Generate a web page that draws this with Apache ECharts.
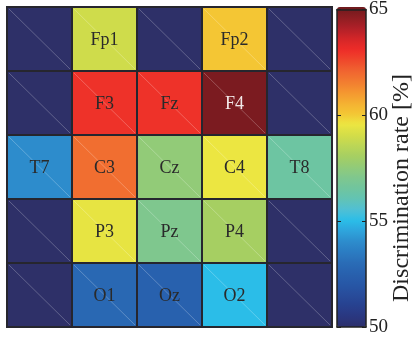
<!DOCTYPE html>
<html>
<head>
<meta charset="utf-8">
<script src="https://cdn.jsdelivr.net/npm/echarts@6/dist/echarts.min.js"></script>
<style>
  html, body { margin: 0; padding: 0; background: #fff; }
  #chart { width: 412px; height: 341px; }
</style>
</head>
<body>
<div id="chart"></div>
<script>
// Electrode layout on a 5 x 5 board and discrimination rate per electrode (%)
const electrodes = ['Fp1', 'Fp2', 'F3', 'Fz', 'F4', 'T7', 'C3', 'Cz', 'C4', 'T8', 'P3', 'Pz', 'P4', 'O1', 'Oz', 'O2'];
const colIndex   = [1, 3, 1, 2, 3, 0, 1, 2, 3, 4, 1, 2, 3, 1, 2, 3];
const rowIndex   = [0, 0, 1, 1, 1, 2, 2, 2, 2, 2, 3, 3, 3, 4, 4, 4];
const rates      = [58.9, 60.0, 62.9, 62.9, 64.8, 54.0, 61.8, 57.5, 59.5, 56.4, 59.4, 57.0, 58.0, 52.8, 52.5, 55.0];

const gridCols = ['0', '1', '2', '3', '4'];
const gridRows = ['0', '1', '2', '3', '4'];

// Colour bar range and ticks
const rateMin = 50;
const rateMax = 65;
const rateTickStep = 5;

// Colour ramp sampled every 0.5 % from 50 to 65
const ramp = [
  '#2c2f6b', '#2a3780', '#27418f', '#284c9b', '#2757a6', '#2861ae', '#2a6cb6', '#2b7cc2',
  '#2d8ccc', '#2ea4dc', '#2bbde8', '#50c0d4', '#62c3b4', '#70c59e', '#7fc78e', '#92cb78',
  '#a6cf62', '#bcd656', '#d4dd48', '#ece641', '#f4c634', '#f4b032', '#f49630', '#f27c30',
  '#f06430', '#ef482c', '#ee2c28', '#d42628', '#b02028', '#8e1d22', '#6e1a1e'
];

const cellData = electrodes.map((name, i) => [colIndex[i], rowIndex[i], rates[i], name]);
const occupied = new Set(electrodes.map((_, i) => colIndex[i] + ',' + rowIndex[i]));
const emptyData = [];
gridRows.forEach((_, r) => gridCols.forEach((_, c) => {
  if (!occupied.has(c + ',' + r)) emptyData.push([c, r]);
}));

// One board cell: filled square, dark outline, faint diagonal seam, optional label
function renderCell(params, api) {
  const center = api.coord([api.value(0), api.value(1)]);
  const size = api.size([1, 1]);
  const x0 = center[0] - size[0] / 2;
  const y0 = center[1] - size[1] / 2;
  const fill = api.visual('color');
  const children = [
    { type: 'rect', shape: { x: x0, y: y0, width: size[0], height: size[1] },
      style: { fill: fill, stroke: '#26262e', lineWidth: 2 } },
    { type: 'line', shape: { x1: x0 + 2, y1: y0 + 2, x2: x0 + size[0] - 2, y2: y0 + size[1] - 2 },
      style: { stroke: 'rgba(255,255,255,0.35)', lineWidth: 0.7 } }
  ];
  const name = params.seriesIndex === 0 ? cellData[params.dataIndex][3] : null;
  if (name) {
    const v = cellData[params.dataIndex][2];
    children.push({
      type: 'text',
      style: {
        text: name, x: center[0], y: center[1] + 1,
        align: 'center', verticalAlign: 'middle',
        font: '18px "Liberation Serif", serif',
        fill: v > 64 ? '#f2e8e8' : '#2a2a2a'
      }
    });
  }
  return { type: 'group', children: children };
}

const chart = echarts.init(document.getElementById('chart'));
chart.setOption({
  animation: false,
  grid: [
    { left: 7, top: 7, width: 325, height: 320 },
    { left: 337, top: 7, width: 29, height: 320 }
  ],
  xAxis: [
    { type: 'category', data: gridCols, gridIndex: 0, show: false },
    { type: 'value', gridIndex: 1, min: 0, max: 1, position: 'top', z: 10,
      axisLine: { show: true, onZero: false, lineStyle: { color: '#222', width: 1.5 } },
      axisTick: { show: false }, axisLabel: { show: false }, splitLine: { show: false } },
    { type: 'value', gridIndex: 1, min: 0, max: 1, position: 'bottom', z: 10,
      axisLine: { show: true, onZero: false, lineStyle: { color: '#222', width: 1.5 } },
      axisTick: { show: false }, axisLabel: { show: false }, splitLine: { show: false } }
  ],
  yAxis: [
    { type: 'category', data: gridRows, gridIndex: 0, inverse: true, show: false },
    { type: 'value', gridIndex: 1, min: rateMin, max: rateMax, interval: rateTickStep,
      position: 'right', z: 10,
      axisLine: { show: true, onZero: false, lineStyle: { color: '#222', width: 1.5 } },
      axisTick: { show: true, inside: true, length: 4, lineStyle: { color: '#222' } },
      axisLabel: { show: true, margin: 3, color: '#222', fontSize: 19,
                   fontFamily: '"Liberation Serif", serif' },
      splitLine: { show: false } },
    { type: 'value', gridIndex: 1, min: rateMin, max: rateMax, interval: rateTickStep,
      position: 'left', z: 10,
      axisLine: { show: true, onZero: false, lineStyle: { color: '#222', width: 1.5 } },
      axisTick: { show: true, inside: true, length: 4, lineStyle: { color: '#222' } },
      axisLabel: { show: false }, splitLine: { show: false } }
  ],
  visualMap: {
    type: 'continuous',
    seriesIndex: 0,
    dimension: 2,
    min: rateMin,
    max: rateMax,
    calculable: false,
    orient: 'vertical',
    left: 337,
    top: 7,
    padding: 0,
    itemWidth: 29,
    itemHeight: 320,
    text: null,
    showLabel: false,
    inRange: { color: ramp }
  },
  graphic: [{
    type: 'text',
    x: 402, y: 188,
    rotation: Math.PI / 2,
    style: {
      text: 'Discrimination rate [%]',
      align: 'center', verticalAlign: 'middle',
      font: '24px "Liberation Serif", serif',
      fill: '#222'
    }
  }],
  series: [
    { type: 'custom', name: 'rate', xAxisIndex: 0, yAxisIndex: 0,
      renderItem: renderCell, data: cellData, encode: { x: 0, y: 1 } },
    { type: 'custom', name: 'empty', xAxisIndex: 0, yAxisIndex: 0,
      itemStyle: { color: '#2e3068' },
      renderItem: renderCell, data: emptyData, encode: { x: 0, y: 1 } }
  ]
});
</script>
</body>
</html>
